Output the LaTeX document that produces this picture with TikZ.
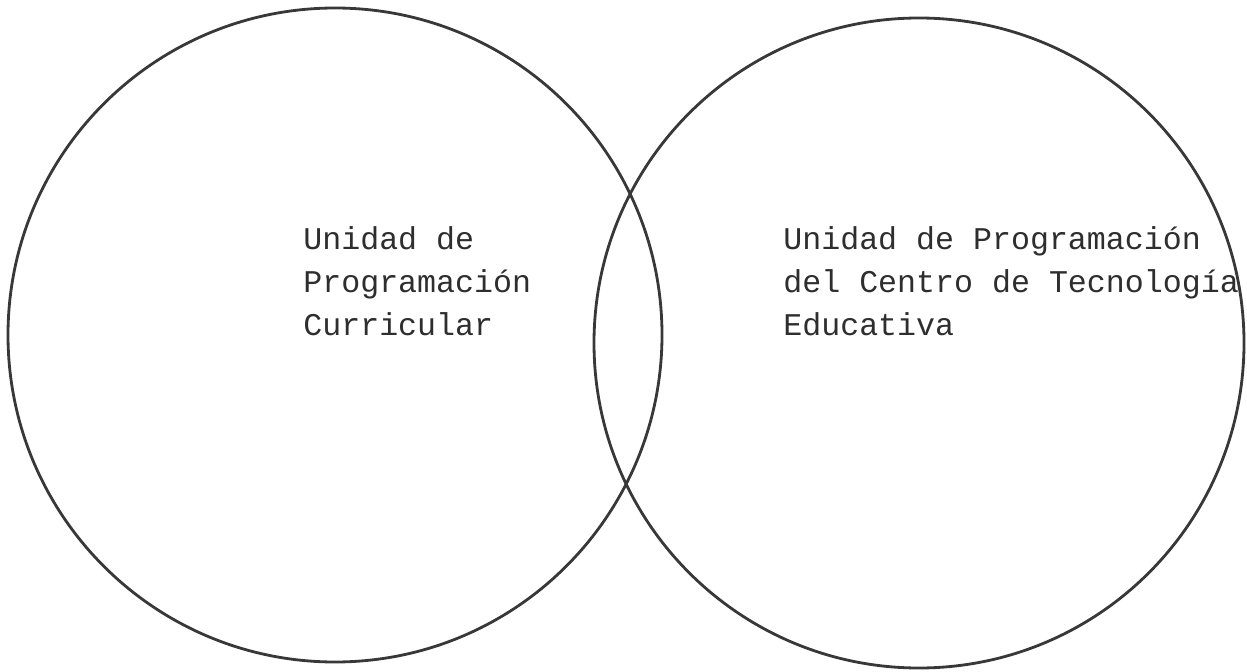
\documentclass[tikz,border=0pt]{standalone}
\usepackage{fontspec}
\setmonofont{Liberation Mono}
\begin{document}
\begin{tikzpicture}[x=0.02cm, y=-0.02cm,
  unitring/.style={draw=black!78, line width=1.6pt},
  unittext/.style={font=\ttfamily\fontsize{18}{24.2}\selectfont, align=left, anchor=base west, inner sep=0pt, text=black!82}]
  % page frame, in pixels of the scan
  \useasboundingbox (0,0) rectangle (1247,672);
  % the two overlapping units
  \draw[unitring] (335,335) circle (327);
  \draw[unitring] (919,343) circle (325);
  \node[unittext] (curricular) at (303,335) {Unidad de\\Programación\\Curricular};
  \node[unittext] (tecnologia) at (783,335) {Unidad de Programación\\del Centro de Tecnología\\Educativa};
\end{tikzpicture}
\end{document}
